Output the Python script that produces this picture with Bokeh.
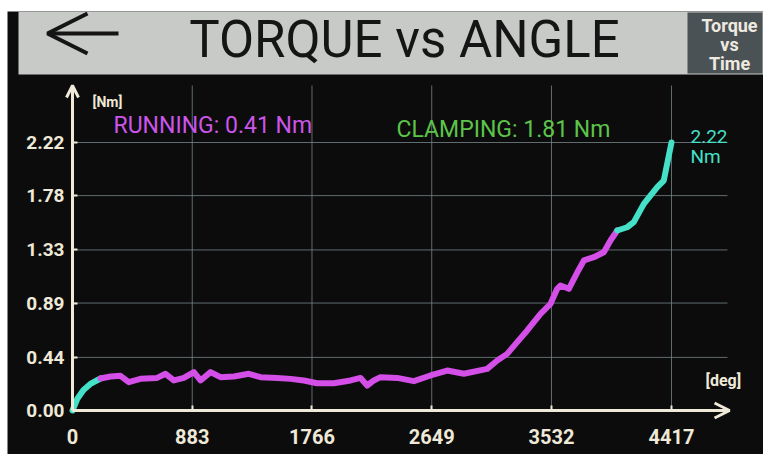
from bokeh.plotting import figure
from bokeh.models import Range1d, FixedTicker, Label, Arrow, OpenHead
from bokeh.embed import file_html
from bokeh.resources import INLINE

# ---------------- data ----------------
angle_deg = [0, 37, 81, 132, 206, 280, 354, 415, 501, 624, 686, 747, 821, 895, 944,
             1018, 1091, 1190, 1300, 1386, 1509, 1608, 1706, 1804, 1927, 2050, 2124,
             2173, 2222, 2271, 2394, 2517, 2640, 2763, 2886, 3058, 3132, 3205, 3279,
             3353, 3451, 3525, 3574, 3598, 3660, 3730, 3771, 3844, 3918, 3967, 4017,
             4090, 4139, 4213, 4312, 4360, 4385, 4417]
torque_nm = [0.00, 0.10, 0.17, 0.22, 0.265, 0.282, 0.287, 0.235, 0.262, 0.270, 0.304,
             0.249, 0.270, 0.318, 0.249, 0.318, 0.276, 0.282, 0.304, 0.276, 0.270,
             0.262, 0.249, 0.226, 0.226, 0.249, 0.270, 0.207, 0.249, 0.276, 0.270,
             0.243, 0.290, 0.331, 0.304, 0.345, 0.414, 0.469, 0.566, 0.663, 0.801,
             0.884, 1.008, 1.035, 1.008, 1.160, 1.243, 1.270, 1.311, 1.408, 1.491,
             1.518, 1.560, 1.712, 1.850, 1.905, 2.044, 2.220]
running_start_deg = 206
clamping_start_deg = 4017
running_torque = 0.41
clamping_torque = 1.81
peak_torque = 2.22

x_ticks = [0, 883, 1766, 2649, 3532, 4417]
x_tick_labels = ["0", "883", "1766", "2649", "3532", "4417"]
y_ticks = [0.00, 0.44, 0.89, 1.33, 1.78, 2.22]
y_tick_labels = ["0.00", "0.44", "0.89", "1.33", "1.78", "2.22"]

title_text = "TORQUE vs ANGLE"
button_lines = ["Torque", "vs", "Time"]

# ---------------- styles ----------------
BG = "#0c0c0c"
CREAM = "#efe9d8"
TEAL = "#45e0c8"
MAGENTA = "#d44ee8"
GREEN = "#5cc44a"
FONT = "Roboto"

W, H = 763, 454
LEFT, TOP = 7, 11
# axis / grid extents in data units
x_axis_end = 4845
y_axis_end = 2.692
grid_right = 4830

p = figure(width=W, height=H,
           x_range=Range1d(-479.3, 5095.4), y_range=Range1d(-0.3645, 3.3052),
           min_border_left=LEFT, min_border_top=TOP, min_border_right=0,
           min_border_bottom=0, toolbar_location=None, output_backend="svg")
# page-pixel space for layout decorations (y downward)
p.extra_x_ranges = {"px": Range1d(LEFT, W)}
p.extra_y_ranges = {"px": Range1d(H, TOP)}
p.background_fill_color = BG
p.border_fill_color = "white"
p.outline_line_color = None
p.xgrid.visible = False
p.ygrid.visible = False

# grid lines (limited to plot area)
p.segment(x0=x_ticks, y0=0, x1=x_ticks, y1=y_axis_end,
          line_color="#75848a", line_width=1, line_alpha=0.8)
p.segment(x0=0, y0=y_ticks, x1=grid_right, y1=y_ticks,
          line_color="#75848a", line_width=1, line_alpha=0.8)

# axes at data origin
for ax in (p.xaxis[0], p.yaxis[0]):
    ax.fixed_location = 0
    ax.axis_line_color = CREAM
    ax.axis_line_width = 3
    ax.major_tick_in = 5
    ax.major_tick_out = 0
    ax.major_tick_line_color = CREAM
    ax.major_tick_line_width = 2
    ax.minor_tick_line_color = None
    ax.major_label_text_color = CREAM
    ax.major_label_text_font = FONT
    ax.major_label_text_font_style = "bold"

p.xaxis.bounds = (0, x_axis_end)
p.xaxis.ticker = FixedTicker(ticks=x_ticks)
p.xaxis.major_label_overrides = dict(zip(x_ticks, x_tick_labels))
p.xaxis.major_label_standoff = 19
p.xaxis.major_label_text_font_size = "20px"
p.yaxis.bounds = (0, y_axis_end)
p.yaxis.ticker = FixedTicker(ticks=y_ticks)
p.yaxis.major_label_overrides = dict(zip(y_ticks, y_tick_labels))
p.yaxis.major_label_standoff = 8
p.yaxis.major_label_text_font_size = "19px"

# curve split into phases
def seg(lo, hi):
    xs = [a for a in angle_deg if lo <= a <= hi]
    ys = [t for a, t in zip(angle_deg, torque_nm) if lo <= a <= hi]
    return xs, ys

sx, sy = seg(0, running_start_deg)
rx, ry = seg(running_start_deg, clamping_start_deg)
cx, cy = seg(clamping_start_deg, max(angle_deg))
for xs, ys, col in ((sx, sy, TEAL), (rx, ry, MAGENTA), (cx, cy, TEAL)):
    p.line(xs, ys, line_color=col, line_width=6, line_join="round", line_cap="round")

# axis arrow heads
p.add_layout(Arrow(x_start=0, y_start=y_axis_end * 0.9, x_end=0, y_end=y_axis_end,
                   line_color=CREAM, line_width=3,
                   end=OpenHead(size=12, line_width=3, line_color=CREAM)))
p.add_layout(Arrow(x_start=x_axis_end * 0.95, y_start=0, x_end=x_axis_end, y_end=0,
                   line_color=CREAM, line_width=3,
                   end=OpenHead(size=15, line_width=3, line_color=CREAM)))

# ---------------- header (page-pixel space) ----------------
p.quad(left=18, right=W, top=11, bottom=74, fill_color="#c8cac7", line_color=None,
       x_range_name="px", y_range_name="px")
p.quad(left=687, right=762, top=12, bottom=73, fill_color="#4b5255", line_color=None,
       x_range_name="px", y_range_name="px")
p.add_layout(Label(x=404, y=39, text=title_text, text_align="center",
                   text_baseline="middle", text_font=FONT, text_font_size="51px",
                   text_color="#151515", x_range_name="px", y_range_name="px"))
p.add_layout(Arrow(x_start=118, y_start=33, x_end=47, y_end=33,
                   line_color="#151515", line_width=4,
                   end=OpenHead(size=40, line_width=4, line_color="#151515"),
                   x_range_name="px", y_range_name="px"))
for i, t in enumerate(button_lines):
    p.add_layout(Label(x=729, y=25 + 19 * i, text=t, text_align="center",
                       text_baseline="middle", text_font=FONT, text_font_size="18px",
                       text_font_style="bold", text_color="#eeeae0",
                       x_range_name="px", y_range_name="px"))

# ---------------- chart texts (page-pixel space) ----------------
def px_label(x, y, text, size, color, bold=False):
    p.add_layout(Label(x=x, y=y, text=text, text_baseline="middle", text_font=FONT,
                       text_font_size=size, text_color=color,
                       text_font_style="bold" if bold else "normal",
                       x_range_name="px", y_range_name="px"))

px_label(92, 101, "[Nm]", "14px", CREAM, bold=True)
px_label(113, 125, f"RUNNING: {running_torque:.2f} Nm", "23px", "#cc55ea")
px_label(396, 129, f"CLAMPING: {clamping_torque:.2f} Nm", "23px", GREEN)
px_label(690, 136, f"{peak_torque:.2f}", "19px", TEAL)
px_label(690, 156, "Nm", "19px", TEAL)
px_label(705, 380, "[deg]", "16px", CREAM, bold=True)

open("out.html", "w").write(file_html(p, INLINE))
